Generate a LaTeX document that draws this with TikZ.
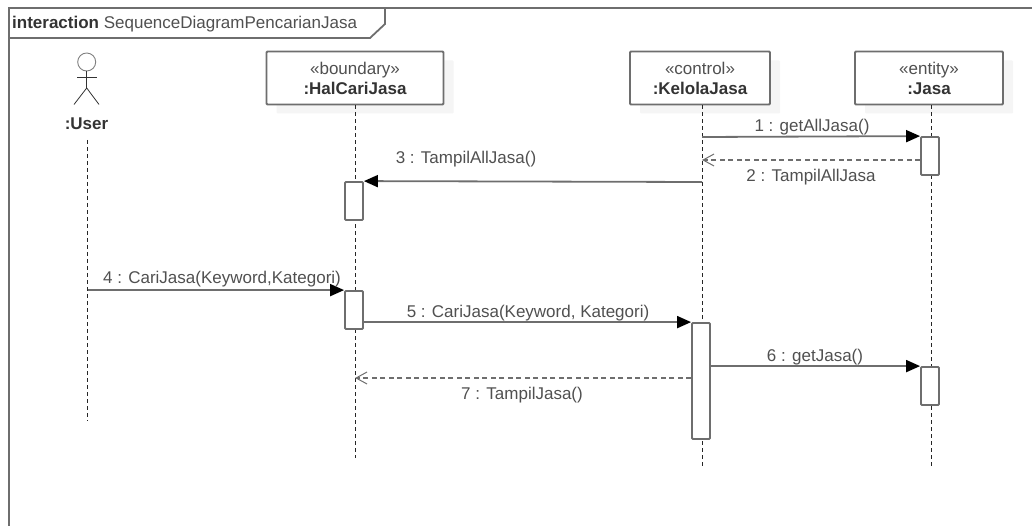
\documentclass[tikz,border=0pt]{standalone}
\usepackage{fontspec}
\setmainfont{Liberation Sans}
\usetikzlibrary{arrows.meta, shadows}
\definecolor{umlline}{HTML}{6E6E6E}
\definecolor{umltext}{HTML}{505050}
\definecolor{umlbold}{HTML}{333333}
\tikzset{
  lifebox/.style={draw=umlline, line width=1.8pt, fill=white, rounded corners=1pt, text width=#1, minimum height=53pt, align=center, inner sep=0pt, font=\fontsize{17}{20}\selectfont, text=umltext, drop shadow={shadow xshift=10pt, shadow yshift=-9pt, fill=black!4, opacity=1}},
  active/.style={draw=umlline, line width=1.8pt, fill=white, rounded corners=1pt, minimum width=18pt, minimum height=#1, inner sep=0pt},
  lifeline/.style={dashed, dash pattern=on 4pt off 3pt, line width=0.9pt, black!85},
  msg/.style={draw=umlline, line width=1.8pt, -{Triangle[length=14pt,width=12pt,fill=black,color=black]}},
  reply/.style={draw=umlline, line width=1.5pt, dash pattern=on 5pt off 3.5pt, -{Straight Barb[length=11pt,width=12pt,line width=1pt,color=umlline]}},
  msglabel/.style={font=\fontsize{17}{20}\selectfont, text=umltext, inner sep=0pt},
  stick/.style={line width=0.8pt, black!80}
}
\newcommand{\nameb}[1]{{\bfseries\color{umlbold}#1}}
\begin{document}
\begin{tikzpicture}[x=1pt,y=-1pt]
\useasboundingbox (0,0) rectangle (1032,526);
\clip (0,0) rectangle (1032,526);
\draw[draw=umlline, line width=1.8pt] (1040,8) -- (9,8) -- (9,540);
\draw[draw=umlline, line width=1.8pt] (385,8) -- (385,24) -- (370,38) -- (9,38);
\node[anchor=west, msglabel] (frametitle) at (12,24) {\nameb{interaction} SequenceDiagramPencarianJasa};

\node[lifebox=177pt] (hal) at (355,78) {«boundary»\\\nameb{:HalCariJasa}};
\node[lifebox=140pt] (kelola) at (700,78) {«control»\\\nameb{:KelolaJasa}};
\node[lifebox=148pt] (jasa) at (929,78) {«entity»\\\nameb{:Jasa}};
\node[msglabel, text=umlbold, font=\fontsize{17}{20}\selectfont\bfseries] (user) at (86.5,123.5) {:User};

\draw[line width=0.9pt, black!50] (86.7,62) circle (9);
\coordinate (neck) at (86.7,71);
\coordinate (hip) at (86.7,88);
\draw[stick] (neck) -- (hip);
\draw[stick] (77,77) -- (96.5,77);
\draw[stick] (74,104.5) -- (hip) -- (99,104.5);

\coordinate (userend) at (87.7,421);
\coordinate (halend) at (355,458);
\coordinate (kelolaend) at (702,467);
\coordinate (jasaend) at (931,467);
\draw[lifeline] (87.7,140) -- (userend);
\draw[lifeline] (hal.south -| halend) -- (halend);
\draw[lifeline] (kelola.south -| kelolaend) -- (kelolaend);
\draw[lifeline] (jasa.south -| jasaend) -- (jasaend);

\node[active=38pt] (jasaa) at (930,156) {};
\node[active=38pt] (hala) at (354,201) {};
\node[active=38pt] (halb) at (354,310) {};
\node[active=116pt] (kelolaa) at (701,381) {};
\node[active=38pt] (jasab) at (930,386) {};

\draw[msg] (702,137) -- (jasaa.north west);
\draw[reply] (jasaa.west |- 0,160) -- (702,160);
\draw[msg] (702,182) -- (hala.north east);
\draw[msg] (userend |- halb.north) -- (halb.north west);
\draw[msg] (halb.east |- kelolaa.north) -- (kelolaa.north west);
\draw[msg] (kelolaa.east |- jasab.north) -- (jasab.north west);
\draw[reply] (kelolaa.west |- 0,378) -- (halend |- 0,378);

\node[msglabel] (msga) at (812,127) {1 : getAllJasa()};
\node[msglabel] (msgb) at (811,177) {2 : TampilAllJasa};
\node[msglabel] (msgc) at (466,159) {3 : TampilAllJasa()};
\node[msglabel] (msgd) at (222,279) {4 : CariJasa(Keyword,Kategori)};
\node[msglabel] (msge) at (528,313) {5 : CariJasa(Keyword, Kategori)};
\node[msglabel] (msgf) at (815,357) {6 : getJasa()};
\node[msglabel] (msgg) at (522,395) {7 : TampilJasa()};
\end{tikzpicture}
\end{document}
